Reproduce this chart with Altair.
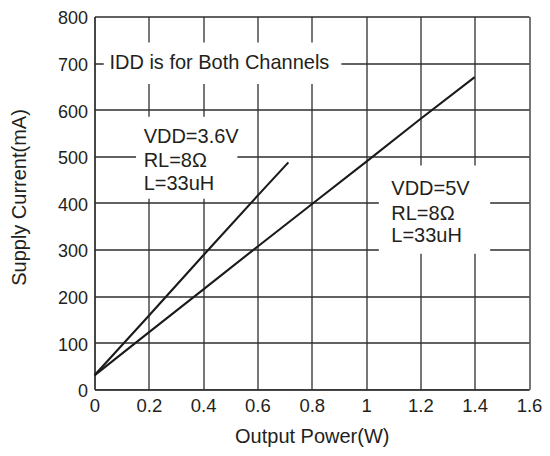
import altair as alt
import pandas as pd

# ---- data ----
x_ticks = [0, 0.2, 0.4, 0.6, 0.8, 1.0, 1.2, 1.4, 1.6]
y_ticks = [0, 100, 200, 300, 400, 500, 600, 700, 800]

vdd36_power = [0.0, 0.2, 0.4, 0.6, 0.714]
vdd36_current = [30, 158, 287, 415, 487]

vdd5_power = [0.0, 0.2, 0.4, 0.6, 0.8, 1.0, 1.2, 1.4]
vdd5_current = [30, 122, 214, 306, 397, 488, 580, 670]

# white label boxes (data coords) that interrupt the grid
box_x1 = [0.034, 0.153, 1.047]
box_x2 = [0.909, 0.526, 1.457]
box_y1 = [655, 409, 291]
box_y2 = [744, 585, 480]

note_text = ["IDD is for Both Channels", "VDD=3.6V", "RL=8Ω", "L=33uH",
             "VDD=5V", "RL=8Ω", "L=33uH"]
note_x = [0.055, 0.181, 0.181, 0.181, 1.093, 1.093, 1.093]
note_y = [700, 541, 489, 440, 429, 376, 329]

FONT = "Liberation Sans"
TXT = "#231f20"
GRID = "#2e2e2e"

lines_df = pd.DataFrame({
    "power": vdd36_power + vdd5_power,
    "current": vdd36_current + vdd5_current,
    "series": ["VDD=3.6V"] * len(vdd36_power) + ["VDD=5V"] * len(vdd5_power),
})
boxes_df = pd.DataFrame({"x1": box_x1, "x2": box_x2, "y1": box_y1, "y2": box_y2})
notes_df = pd.DataFrame({"x": note_x, "y": note_y, "t": note_text})

xscale = alt.Scale(domain=[0, 1.6], nice=False, zero=False)
yscale = alt.Scale(domain=[0, 800], nice=False, zero=False)

xaxis = alt.Axis(values=x_ticks, title="Output Power(W)", grid=True, ticks=False,
                 labelPadding=16, labelBaseline="middle", labelFontSize=18.5,
                 labelExpr="datum.value == 1 ? '1' : format(datum.value, '.1~f')",
                 titleY=53.5, titleBaseline="alphabetic", titleFontSize=20,
                 labelFlush=False, labelOverlap=False)
yaxis = alt.Axis(values=y_ticks, title="Supply Current(mA)", grid=True, ticks=False,
                 labelPadding=7, labelFontSize=18, labelOffset=2.5,
                 labelFlush=False, labelOverlap=False,
                 titleX=-75, titleY=180.5, titleAlign="center", titleBaseline="middle",
                 titleFontSize=20)

lines = alt.Chart(lines_df).mark_line(color="#1a1a1a", strokeWidth=2.1).encode(
    x=alt.X("power:Q", scale=xscale, axis=xaxis),
    y=alt.Y("current:Q", scale=yscale, axis=yaxis),
    detail="series:N",
)

boxes = alt.Chart(boxes_df).mark_rect(fill="white", strokeWidth=0).encode(
    x=alt.X("x1:Q", scale=xscale), x2="x2:Q",
    y=alt.Y("y1:Q", scale=yscale), y2="y2:Q",
)

notes = alt.Chart(notes_df).mark_text(align="left", baseline="middle", font=FONT,
                                      fontSize=20, color=TXT).encode(
    x=alt.X("x:Q", scale=xscale), y=alt.Y("y:Q", scale=yscale), text="t:N",
)

chart = alt.layer(lines, boxes, notes).properties(
    width=434.5, height=372.8,
    autosize=alt.AutoSizeParams(type="none"),
    padding={"left": 86.5, "top": 8.5, "right": 13, "bottom": 58.5},
    background="white",
).configure_view(strokeWidth=0).configure_axis(
    gridColor=GRID, gridWidth=1.3, gridOpacity=1,
    domainColor=GRID, domainWidth=1.3,
    labelFont=FONT, titleFont=FONT, labelColor=TXT, titleColor=TXT,
    titleFontWeight="normal",
)

chart.save("out.html", embed_options={"renderer": "svg", "actions": False})
